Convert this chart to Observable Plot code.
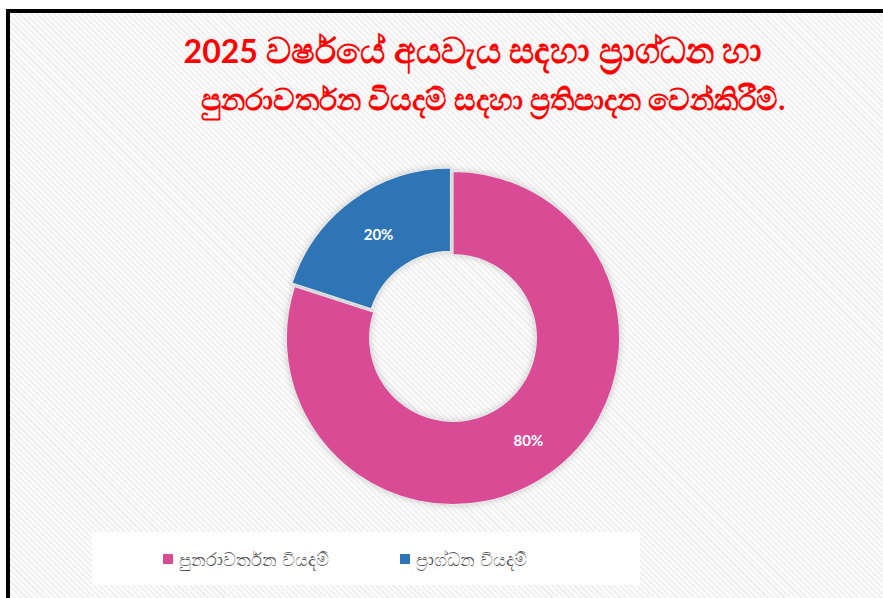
<!DOCTYPE html>
<html><head><meta charset="utf-8">
<script src="https://cdn.jsdelivr.net/npm/d3@7"></script>
<script src="https://cdn.jsdelivr.net/npm/@observablehq/plot@0.6"></script>
<style>
body{margin:0;width:883px;height:598px;overflow:hidden;background:#fff;font-family:"Noto Sans",sans-serif;position:relative;}
#frame{position:absolute;left:6px;top:9px;width:900px;height:620px;border-left:4px solid #000;border-top:4px solid #000;
 background:repeating-linear-gradient(45deg,#efefef 0px,#efefef 1.5px,#fbfbfb 1.5px,#fbfbfb 4px);}
#title{position:absolute;left:0;top:25px;width:946px;text-align:center;color:#ff0000;font-weight:bold;line-height:48px;font-family:Lato,"Noto Sans",sans-serif;}
#title .l0{font-size:35px;}
#title .l1{font-size:29.5px;padding-left:40px;}
#title .num{font-size:32px;}
#chart{position:absolute;left:278px;top:163px;}
#legend{position:absolute;left:92px;top:532px;width:548px;height:53px;background:rgba(255,255,255,0.88);}
.item{position:absolute;top:0;height:53px;display:flex;align-items:center;color:#595959;font-size:18px;}
.sw{width:10px;height:10px;margin-right:6px;}
</style></head>
<body>
<div id="frame"></div>
<div id="title"></div>
<div id="chart"></div>
<div id="legend"></div>
<script>
const titleLines = ["2025 වර්ෂයේ අයවැය සදහා ප්‍රාග්ධන හා", "පුනරාවර්තන වියදම් සදහා ප්‍රතිපාදන වෙන්කිරීම්."];
const categories = ["පුනරාවර්තන වියදම්", "ප්‍රාග්ධන වියදම්"];
const shares = [80, 20];
const percentLabels = ["80%", "20%"];
const colors = ["#DA4B96", "#2E75B6"];

document.getElementById("title").innerHTML = titleLines
  .map((t, i) => `<div class="l${i}">${t.replace(/(\d+)/, '<span class="num">$1</span>')}</div>`).join("");

const pie = d3.pie().sort(null).value(d => d.value)(categories.map((c, i) => ({name: c, value: shares[i], label: percentLabels[i], color: colors[i], explode: i === 1 ? 0.025 : 0})));
const inner = 0.5;
const labelR = 0.765;
const rows = pie.map(p => {
  const a = (p.startAngle + p.endAngle) / 2;
  return {...p.data, a0: p.startAngle, a1: p.endAngle, mid: a,
    lx: Math.sin(a) * labelR,
    ly: Math.cos(a) * labelR};
});

const slices = (index, scales) => {
  const g = d3.create("svg:g").attr("filter", "drop-shadow(0px 0px 3px rgba(0,0,0,0.18))");
  const cx = scales.x(0), cy = scales.y(0);
  const R = Math.abs(scales.x(1) - scales.x(0));
  const arc = d3.arc().innerRadius(R * inner).outerRadius(R);
  for (const r of rows) {
    const off = r.explode * R;
    g.append("path")
      .attr("transform", `translate(${cx + Math.sin(r.mid) * off},${cy - Math.cos(r.mid) * off})`)
      .attr("d", arc({startAngle: r.a0, endAngle: r.a1}))
      .attr("fill", r.color)
      .attr("stroke", "#e6e6e6")
      .attr("stroke-width", 1.2);
  }
  return g.node();
};

const chart = Plot.plot({
  width: 350, height: 350, margin: 0,
  x: {domain: [-1.05, 1.05], axis: null},
  y: {domain: [-1.05, 1.05], axis: null},
  style: {background: "transparent", overflow: "visible"},
  marks: [
    slices,
    Plot.text(rows, {x: "lx", y: "ly", text: "label", fill: "white", fontSize: 15, fontWeight: "bold", fontFamily: "Lato, 'Open Sans', sans-serif"})
  ]
});
document.getElementById("chart").append(chart);

const lg = document.getElementById("legend");
const lpos = [71, 308];
categories.forEach((c, i) => {
  const d = document.createElement("div");
  d.className = "item";
  d.style.left = lpos[i] + "px";
  d.innerHTML = `<span class="sw" style="background:${colors[i]}"></span><span>${c}</span>`;
  lg.append(d);
});
</script>
</body></html>
